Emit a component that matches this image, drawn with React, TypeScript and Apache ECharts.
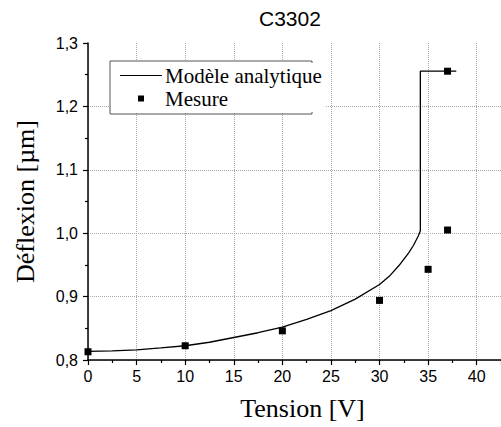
import React, { useEffect, useRef } from "react";
import * as echarts from "echarts";

const title = "C3302";
const xName = "Tension [V]";
const yName = "Déflexion [µm]";
const modelName = "Modèle analytique";
const measureName = "Mesure";

// Analytic model curve (tension V, deflexion µm)
const modelV = [0, 2.5, 5, 7.5, 10, 12.5, 15, 17.5, 20, 22.5, 25, 27.5, 30, 31, 32, 33, 33.5, 34, 34.2, 34.2, 37.9];
const modelD = [0.8135, 0.8145, 0.816, 0.819, 0.8225, 0.828, 0.8355, 0.843, 0.852, 0.864, 0.878, 0.896, 0.919, 0.932, 0.949, 0.969, 0.981, 0.996, 1.004, 1.2555, 1.2555];

// Measurements
const measureV = [0, 10, 20, 30, 35, 37, 37];
const measureD = [0.813, 0.8225, 0.846, 0.894, 0.943, 1.005, 1.2555];

const xTicks = { min: 0, max: 42.5, interval: 5 };
const yTicks = { min: 0.8, max: 1.3, interval: 0.1 };

export default function App() {
  const ref = useRef<HTMLDivElement>(null);
  useEffect(() => {
    if (!ref.current) return;
    const chart = echarts.init(ref.current, null, { renderer: "svg" });
    const sans = "Liberation Sans";
    const serif = "Liberation Serif";
    chart.setOption({
      animation: false,
      backgroundColor: "#fff",
      title: {
        text: title,
        left: 259,
        top: 8,
        padding: 0,
        textStyle: { fontFamily: sans, fontSize: 21, fontWeight: "normal", color: "#000" },
      },
      grid: { left: 88, top: 43, right: 0, bottom: 67, containLabel: false },
      legend: {
        orient: "vertical",
        left: 110,
        top: 61,
        padding: [4, 3, 4, 10],
        itemGap: 2,
        itemWidth: 42,
        itemHeight: 6,
        backgroundColor: "#fff",
        borderWidth: 0,
        symbolKeepAspect: true,
        textStyle: { fontFamily: serif, fontSize: 21, lineHeight: 21, color: "#000", padding: [0, 0, 0, -2] },
        data: [
          { name: modelName, icon: "path://M0,0H42V1.2H0Z", itemStyle: { color: "#000" } },
          { name: measureName, icon: "path://M0,0H1V1H0Z", itemStyle: { color: "#000", opacity: 1 } },
        ],
      },
      graphic: [
        {
          type: "polyline",
          z: 100,
          shape: { points: [[312, 63], [312, 61], [110, 61], [110, 114], [312, 114], [312, 112]] },
          style: { stroke: "#555", lineWidth: 1, fill: null },
          silent: true,
        },
      ],
      xAxis: {
        type: "value",
        min: xTicks.min,
        max: xTicks.max,
        interval: xTicks.interval,
        name: xName,
        nameLocation: "middle",
        nameGap: 35,
        nameTextStyle: { fontFamily: serif, fontSize: 26, fontWeight: "normal", color: "#000", padding: [0, 0, 0, 16] },
        axisLine: { show: true, onZero: false, lineStyle: { color: "#000", width: 1.5 } },
        axisTick: { show: true, length: 5, lineStyle: { color: "#000", width: 1.2 } },
        minorTick: { show: true, splitNumber: 2, length: 3, lineStyle: { color: "#000", width: 1.2 } },
        axisLabel: { fontFamily: sans, fontSize: 16, color: "#000", margin: 8, showMaxLabel: false },
        splitLine: { show: true, lineStyle: { color: "#aaa", type: "dotted", width: 1 } },
      },
      yAxis: {
        type: "value",
        min: yTicks.min,
        max: yTicks.max,
        interval: yTicks.interval,
        name: yName,
        nameLocation: "middle",
        nameGap: 50,
        nameTextStyle: { fontFamily: serif, fontSize: 26, fontWeight: "normal", color: "#000" },
        axisLine: { show: true, onZero: false, lineStyle: { color: "#000", width: 1.5 } },
        axisTick: { show: true, length: 5, lineStyle: { color: "#000", width: 1.2 } },
        minorTick: { show: true, splitNumber: 2, length: 3, lineStyle: { color: "#000", width: 1.2 } },
        axisLabel: {
          fontFamily: sans,
          fontSize: 16,
          color: "#000",
          margin: 10,
          formatter: (v: number) => v.toFixed(1).replace(".", ","),
        },
        splitLine: { show: true, showMaxLine: false, lineStyle: { color: "#aaa", type: "dotted", width: 1 } },
      },
      series: [
        {
          name: modelName,
          type: "line",
          data: modelV.map((v, i) => [v, modelD[i]]),
          symbol: "none",
          smooth: false,
          lineStyle: { color: "#000", width: 1.3 },
          itemStyle: { color: "#000" },
          z: 3,
        },
        {
          name: measureName,
          type: "scatter",
          data: measureV.map((v, i) => [v, measureD[i]]),
          symbol: "rect",
          symbolSize: 7,
          itemStyle: { color: "#000", opacity: 1 },
          z: 4,
        },
      ],
    });
    return () => chart.dispose();
  }, []);
  return <div ref={ref} style={{ width: 501, height: 427, position: "absolute", left: 0, top: 0 }} />;
}
